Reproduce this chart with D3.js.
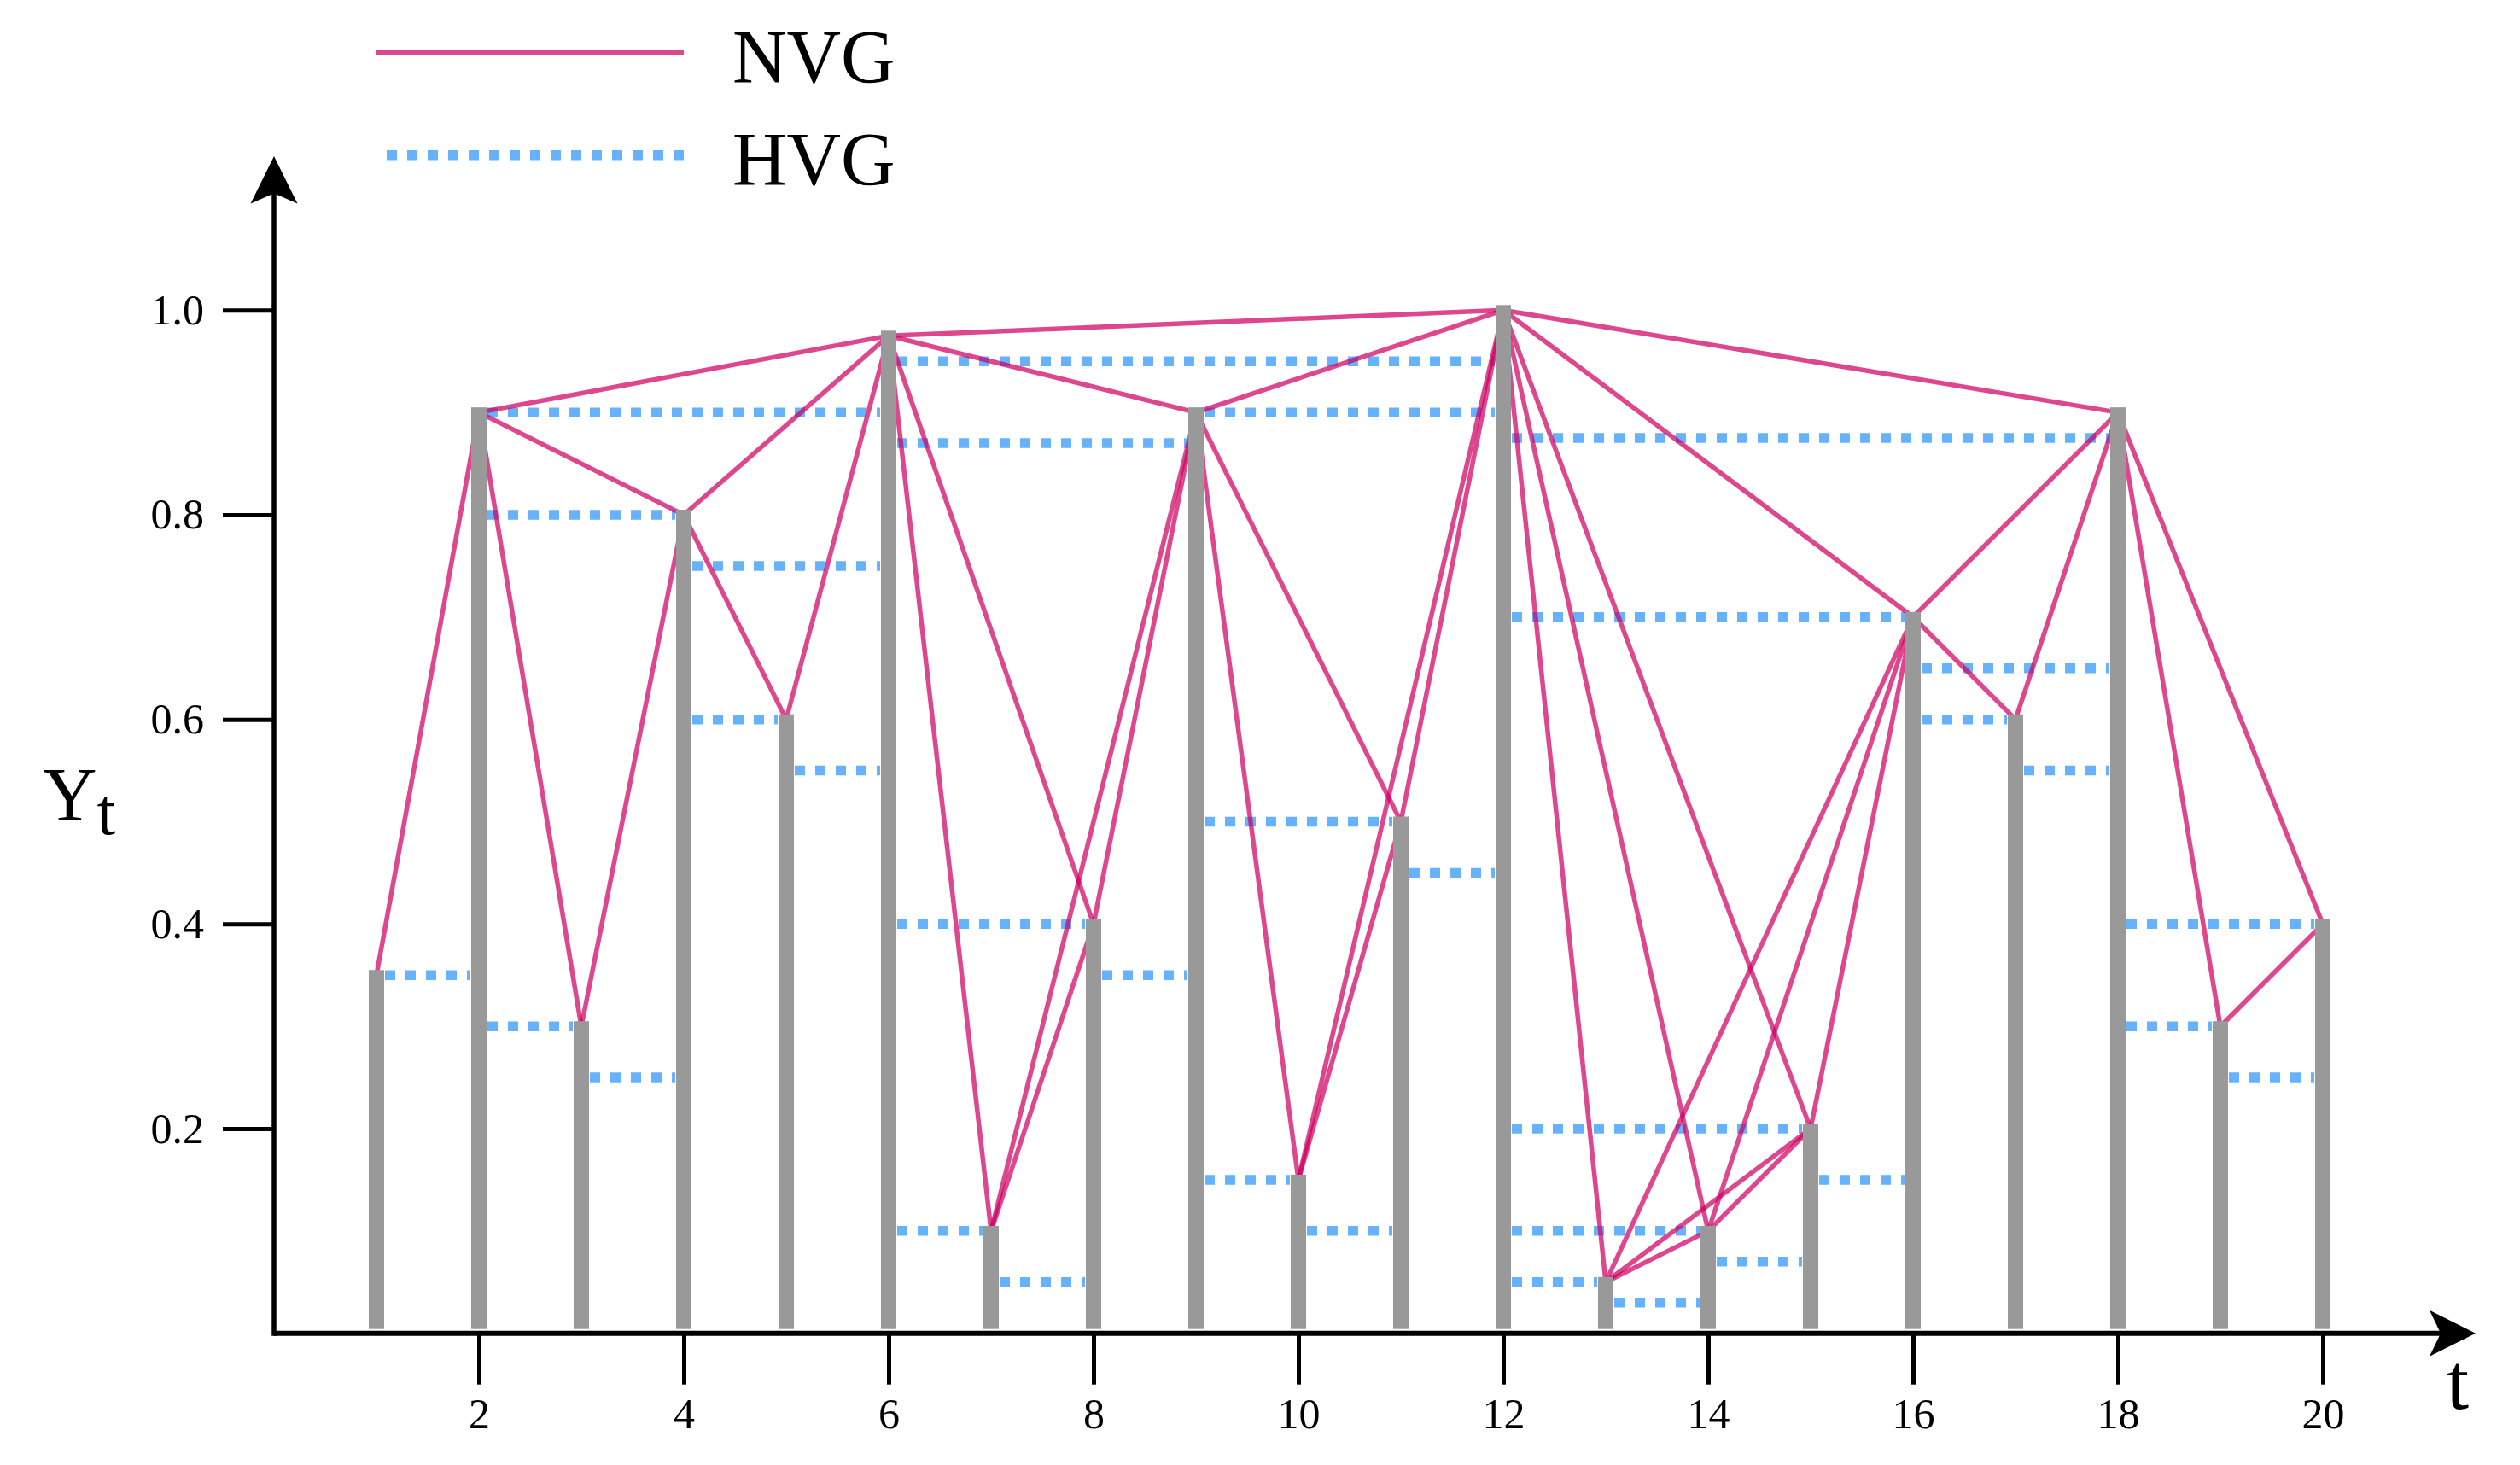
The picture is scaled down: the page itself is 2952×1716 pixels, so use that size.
<!DOCTYPE html>
<html>
<head>
<meta charset="utf-8">
<script src="https://cdn.jsdelivr.net/npm/d3@7"></script>
<style>
  html, body { margin: 0; padding: 0; background: #ffffff; }
  svg { display: block; }
  text { font-family: "Liberation Serif", "Times New Roman", serif; fill: #000; }
</style>
</head>
<body>
<svg id="chart" width="2952" height="1716"></svg>
<script>
// ---------------- data ----------------
const times  = [1, 2, 3, 4, 5, 6, 7, 8, 9, 10, 11, 12, 13, 14, 15, 16, 17, 18, 19, 20];
const values = [0.35, 0.9, 0.3, 0.8, 0.6, 0.975, 0.1, 0.4, 0.9, 0.15, 0.5, 1.0, 0.05, 0.1, 0.2, 0.7, 0.6, 0.9, 0.3, 0.4];

// natural visibility graph edges (time index pairs)
const nvgFrom = [1, 2, 2, 2, 3, 4, 4, 5, 6, 6, 6, 6, 7, 7, 8, 9, 9, 9, 10, 10, 11, 12, 12, 12, 12, 12, 13, 13, 13, 14, 14, 15, 16, 16, 17, 18, 18, 19];
const nvgTo   = [2, 3, 4, 6, 4, 5, 6, 6, 7, 8, 9, 12, 8, 9, 9, 10, 11, 12, 11, 12, 12, 13, 14, 15, 16, 18, 14, 15, 16, 15, 16, 16, 17, 18, 18, 19, 20, 20];

// horizontal visibility graph edges (time index pairs and drawing level)
const hvgFrom  = [1, 2, 3, 2, 2, 4, 4, 5, 6, 6, 6, 6, 7, 8, 9, 9, 9, 10, 11, 12, 12, 12, 12, 12, 13, 14, 15, 16, 16, 17, 18, 18, 19];
const hvgTo    = [2, 3, 4, 4, 6, 6, 5, 6, 12, 9, 8, 7, 8, 9, 12, 11, 10, 11, 12, 18, 16, 15, 14, 13, 14, 15, 16, 18, 17, 18, 20, 19, 20];
const hvgLevel = [0.35, 0.30, 0.25, 0.80, 0.90, 0.75, 0.60, 0.55, 0.95, 0.87, 0.40, 0.10, 0.05, 0.35, 0.90, 0.50, 0.15, 0.10, 0.45, 0.875, 0.70, 0.20, 0.10, 0.05, 0.03, 0.07, 0.15, 0.65, 0.60, 0.55, 0.40, 0.30, 0.25];

const xTicks = [2, 4, 6, 8, 10, 12, 14, 16, 18, 20];
const yTicks = [0.2, 0.4, 0.6, 0.8, 1.0];
const yTickLabels = ["0.2", "0.4", "0.6", "0.8", "1.0"];
const legendLabels = ["NVG", "HVG"];

// ---------------- drawing ----------------
const svg = d3.select("#chart");
svg.append("rect").attr("width", 2952).attr("height", 1716).attr("fill", "#fff");

const x = d3.scaleLinear().domain([0, 20]).range([321, 2721]);
const y = d3.scaleLinear().domain([0, 1]).range([1561.7, 363.3]);

const pink = "#ce0062";
const blue = "#66b2ff";
const gray = "#999999";
const valueAt = t => values[times.indexOf(t)];

// HVG dashed links
const hvg = hvgFrom.map((f, i) => ({ f, t: hvgTo[i], v: hvgLevel[i] }));
svg.append("g").selectAll("line").data(hvg).join("line")
  .attr("x1", d => x(d.f) + 10)
  .attr("x2", d => x(d.t) - 10)
  .attr("y1", d => y(d.v))
  .attr("y2", d => y(d.v))
  .attr("stroke", blue)
  .attr("stroke-width", 11.5)
  .attr("stroke-dasharray", "12 12");

// NVG links
const nvg = nvgFrom.map((f, i) => ({ f, t: nvgTo[i] }));
svg.append("g").selectAll("line").data(nvg).join("line")
  .attr("x1", d => x(d.f))
  .attr("y1", d => y(valueAt(d.f)))
  .attr("x2", d => x(d.t))
  .attr("y2", d => y(valueAt(d.t)))
  .attr("stroke", pink)
  .attr("stroke-opacity", 0.72)
  .attr("stroke-width", 5.5);

// bars
svg.append("g").selectAll("rect").data(times).join("rect")
  .attr("x", d => x(d) - 9)
  .attr("width", 18)
  .attr("y", (d, i) => y(values[i]) - 6)
  .attr("height", (d, i) => (y(0) - 5) - (y(values[i]) - 6))
  .attr("fill", gray);

// x axis
const xAxis = d3.axisBottom(x).tickValues(xTicks).tickSize(60).tickPadding(16).tickFormat(d3.format("d"));
const gx = svg.append("g").attr("transform", `translate(0,${y(0)})`).call(xAxis);
gx.select(".domain").remove();
gx.selectAll(".tick line").attr("stroke", "#000").attr("stroke-width", 5);
gx.selectAll(".tick text").attr("font-size", 50).attr("font-family", "Liberation Serif, serif").attr("fill", "#000");

// y axis
const yAxis = d3.axisLeft(y).tickValues(yTicks).tickSize(60).tickPadding(22).tickFormat((d, i) => yTickLabels[i]);
const gy = svg.append("g").attr("transform", `translate(${x(0)},0)`).call(yAxis);
gy.select(".domain").remove();
gy.selectAll(".tick line").attr("stroke", "#000").attr("stroke-width", 5);
gy.selectAll(".tick text").attr("font-size", 50).attr("font-family", "Liberation Serif, serif").attr("fill", "#000");

// axis lines with arrow heads
const x0 = x(0), y0 = y(0);
svg.append("line").attr("x1", x0).attr("x2", 2862).attr("y1", y0).attr("y2", y0)
  .attr("stroke", "#000").attr("stroke-width", 6);
svg.append("line").attr("x1", x0).attr("x2", x0).attr("y1", y0 + 3).attr("y2", 224)
  .attr("stroke", "#000").attr("stroke-width", 5.5);
svg.append("path")
  .attr("d", `M2900,${y0} L2846,${y0 - 27} L2859,${y0} L2846,${y0 + 27} Z`)
  .attr("fill", "#000");
svg.append("path")
  .attr("d", `M${x0},183 L${x0 - 27.5},238.5 L${x0},226.5 L${x0 + 27.5},238.5 Z`)
  .attr("fill", "#000");

// axis titles
svg.append("text").attr("x", 2866).attr("y", 1650).attr("font-size", 94).text("t");
const yl = svg.append("text").attr("x", 50).attr("y", 960).attr("font-size", 88);
yl.append("tspan").text("Y");
yl.append("tspan").attr("font-size", 78).attr("dy", 17).text("t");

// legend
svg.append("line").attr("x1", 441).attr("x2", 801).attr("y1", 61.7).attr("y2", 61.7)
  .attr("stroke", pink).attr("stroke-opacity", 0.72).attr("stroke-width", 6);
svg.append("line").attr("x1", 453).attr("x2", 801).attr("y1", 181.7).attr("y2", 181.7)
  .attr("stroke", blue).attr("stroke-width", 11.5).attr("stroke-dasharray", "12 12");
svg.append("g").selectAll("text").data(legendLabels).join("text")
  .attr("x", 858)
  .attr("y", (d, i) => 96 + i * 120)
  .attr("font-size", 88)
  .text(d => d);
</script>
</body>
</html>
